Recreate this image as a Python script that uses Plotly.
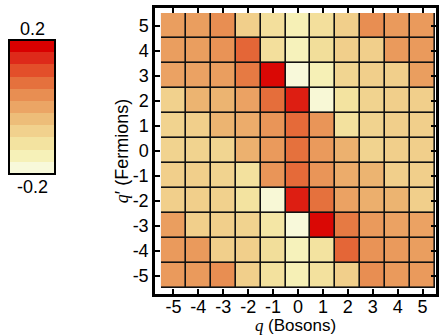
import plotly.graph_objects as go

# Axes
q_bosons = [-5, -4, -3, -2, -1, 0, 1, 2, 3, 4, 5]
q_fermions = [5, 4, 3, 2, 1, 0, -1, -2, -3, -4, -5]   # rows, top to bottom
tick_labels = ["-5", "-4", "-3", "-2", "-1", "0", "1", "2", "3", "4", "5"]

# Cell values (rows follow q_fermions order, columns follow q_bosons)
values = [
    [0.011, 0.011, 0.036, -0.069, -0.102, -0.142, -0.102, -0.069, 0.036, 0.018, 0.018],
    [0.011, 0.011, 0.029, 0.084, -0.102, -0.149, -0.098, -0.069, -0.069, 0.018, 0.018],
    [0.004, 0.004, 0.011, 0.062, 0.175, -0.182, -0.142, -0.080, -0.069, -0.069, 0.011],
    [-0.073, -0.022, -0.022, 0.004, 0.076, 0.156, -0.178, -0.109, -0.076, -0.069, -0.069],
    [-0.076, -0.069, -0.022, -0.011, 0.025, 0.080, 0.025, -0.105, -0.076, -0.069, -0.069],
    [-0.076, -0.076, -0.080, -0.018, 0.018, 0.073, 0.018, -0.018, -0.076, -0.069, -0.069],
    [-0.069, -0.069, -0.076, -0.105, 0.025, 0.080, 0.025, -0.011, -0.022, -0.069, -0.069],
    [-0.069, -0.069, -0.073, -0.109, -0.178, 0.156, 0.073, 0.004, -0.015, -0.022, -0.069],
    [0.011, -0.069, -0.069, -0.076, -0.116, -0.182, 0.175, 0.062, 0.018, 0.004, 0.004],
    [0.018, 0.018, -0.069, -0.069, -0.098, -0.149, -0.109, 0.084, 0.029, 0.018, 0.011],
    [0.018, 0.018, 0.036, -0.069, -0.105, -0.142, -0.105, -0.069, 0.036, 0.018, 0.018],
]

cmin, cmax = -0.2, 0.2
band_colors = ["#F8F9DA", "#F6F1B8", "#F3E3A0", "#F1D18D", "#EDBD79", "#EBA565",
               "#E88E52", "#E5713D", "#E34F2A", "#DE2A1A", "#D90000"]

n = len(band_colors)
# stepped scale for the colour bar
bar_scale = []
for i, c in enumerate(band_colors):
    bar_scale.append([i / n, c])
    bar_scale.append([(i + 1) / n, c])
# smooth scale for the cells
cell_scale = [[0.0, band_colors[0]]]
for i, c in enumerate(band_colors):
    cell_scale.append([(i + 0.5) / n, c])
cell_scale.append([1.0, band_colors[-1]])

W, H = 441, 335
ml, mr, mt, mb = 155, 5, 8, 41
pw = W - ml - mr
ph = H - mt - mb

fig = go.Figure()

# colour-bar carrier (fully covered by the layers above)
fig.add_trace(go.Heatmap(
    x=q_bosons, y=q_fermions, z=values,
    zmin=cmin, zmax=cmax, colorscale=bar_scale, hoverinfo="skip",
    colorbar=dict(
        x=(9 - ml) / pw, xanchor="left", xpad=0, ypad=0,
        y=1 - (107 - mt) / ph, yanchor="middle",
        thickness=46, thicknessmode="pixels",
        len=134, lenmode="pixels",
        outlinecolor="black", outlinewidth=2,
        showticklabels=False, ticks="",
    ),
))

# dark underlay for the cell borders
fig.add_trace(go.Heatmap(
    x=q_bosons, y=q_fermions,
    z=[[1 for _ in row] for row in values],
    colorscale=[[0, "#111111"], [1, "#111111"]],
    showscale=False, hoverinfo="skip",
))

fig.add_trace(go.Heatmap(
    x=q_bosons, y=q_fermions, z=values,
    zmin=cmin, zmax=cmax, colorscale=cell_scale,
    xgap=1.6, ygap=1.6, showscale=False,
))

font = dict(family="Liberation Sans, Arial, sans-serif", size=18, color="black")
title_font = dict(family="Liberation Sans, Arial, sans-serif", size=17, color="black")

fig.update_layout(
    width=W, height=H,
    margin=dict(l=ml, r=mr, t=mt, b=mb, autoexpand=False),
    paper_bgcolor="white", plot_bgcolor="white",
    font=font,
    showlegend=False,
    annotations=[
        dict(text="0.2", xref="paper", yref="paper",
             x=(32 - ml) / pw, y=1 - (29 - mt) / ph, showarrow=False,
             xanchor="center", yanchor="middle", font=font),
        dict(text="-0.2", xref="paper", yref="paper",
             x=(32 - ml) / pw, y=1 - (187 - mt) / ph, showarrow=False,
             xanchor="center", yanchor="middle", font=font),
    ],
)

axis_common = dict(
    showgrid=False, zeroline=False, automargin=False,
    showline=True, linecolor="black", linewidth=2.5, mirror="ticks",
    ticks="inside", ticklen=5, tickwidth=2, tickcolor="black",
    tickfont=font,
)

fig.update_xaxes(
    range=[-5.74, 5.54], tickvals=q_bosons, ticktext=tick_labels,
    ticklabelstandoff=-5,
    title=dict(text="<i style='font-family:Liberation Serif'>q</i> (Bosons)",
               font=title_font, standoff=4),
    **axis_common,
)
fig.update_yaxes(
    range=[-5.74, 5.7], tickvals=q_bosons, ticktext=tick_labels,
    title=dict(text="<i style='font-family:Liberation Serif'>q</i>\u2032 (Fermions)",
               font=font, standoff=0),
    **axis_common,
)

fig.write_html("out.html", config={"displayModeBar": False},
               post_script="document.body.style.margin='0';")
